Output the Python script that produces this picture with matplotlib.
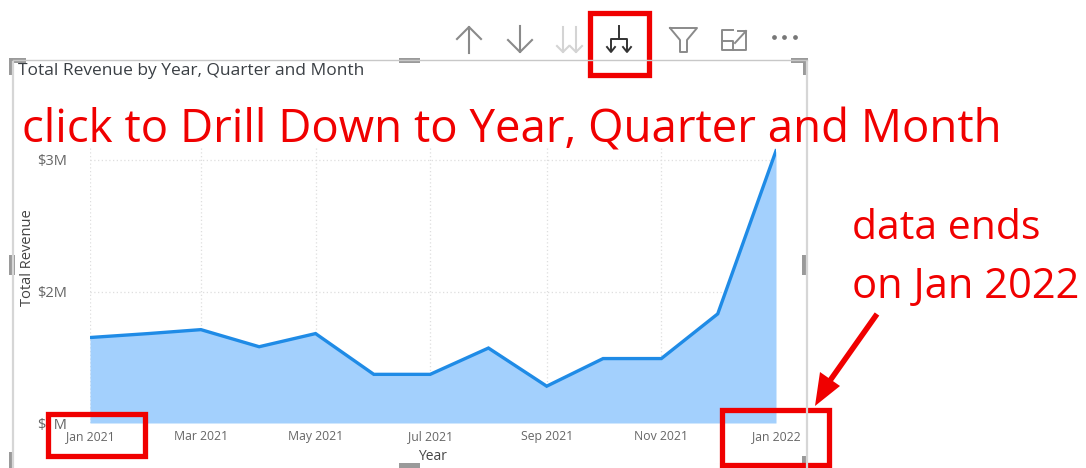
import matplotlib
matplotlib.use("Agg")
import matplotlib.pyplot as plt
import pandas as pd
from matplotlib.patches import Rectangle, Polygon

plt.rcParams['font.family'] = ['Open Sans', 'DejaVu Sans']

# Monthly revenue in $M, Jan 2021 through Jan 2022
months = ['2021-01-01', '2021-02-01', '2021-03-01', '2021-04-01', '2021-05-01', '2021-06-01', '2021-07-01',
          '2021-08-01', '2021-09-01', '2021-10-01', '2021-11-01', '2021-12-01', '2022-01-01']
revenue = [1.65, 1.68, 1.71, 1.58, 1.68, 1.37, 1.37, 1.57, 1.28, 1.49, 1.49, 1.83, 3.07]
y_ticks = [1, 2, 3]
y_tick_labels = ['$1M', '$2M', '$3M']

W, H = 1086, 468
fig = plt.figure(figsize=(W / 100, H / 100), dpi=100, facecolor='white')

# helper: axes rectangle given in pixels from the top left
def px_axes(left, top, right, bottom, **kw):
    return fig.add_axes([left / W, 1 - bottom / H, (right - left) / W, (bottom - top) / H], **kw)

# ---- area chart on a real time axis ----
ax = px_axes(90, 146, 776, 423)
dates = pd.to_datetime(months)
ax.fill_between(dates, revenue, 1, color='#a3d0fd', lw=0, zorder=2)
ax.plot(dates, revenue, color='#1f8be6', lw=2.4, solid_joinstyle='miter', zorder=3)
ax.set_xlim(dates[0], dates[-1])
ax.set_ylim(1, 1 + 277 / 131.5)
ax.set_xticks(dates[::2])
ax.set_xticklabels([d.strftime('%b %Y') for d in dates[::2]], fontsize=8.8, color='#666666')
ax.set_yticks(y_ticks)
ax.set_yticklabels(y_tick_labels, fontsize=10.5, color='#666666')
ax.tick_params(axis='x', length=0, pad=5)
ax.tick_params(axis='y', length=0, pad=16.5)
ax.grid(True, color='#dedede', lw=0.9, ls=(0, (1, 2)), zorder=1)
ax.set_axisbelow(True)
for s in ax.spines.values():
    s.set_visible(False)

# overlay in pixel coordinates for the visual frame, toolbar and callouts
ov = fig.add_axes([0, 0, 1, 1], zorder=5)
ov.set_xlim(0, W)
ov.set_ylim(H, 0)
ov.axis('off')
ov.patch.set_alpha(0)

# axis titles and chart title
ov.text(433, 456, 'Year', fontsize=10, color='#444444', ha='center', va='center')
ov.text(28, 258, 'Total Revenue', fontsize=10.5, color='#444444', rotation=90, ha='center', va='center')
ov.text(18, 71, 'Total Revenue by Year, Quarter and Month', fontsize=12.5, color='#3a3f44', va='center')

# visual frame with selection handles
ov.plot([13, 13], [62, 468], color='#d6d6d6', lw=1.6)
ov.plot([807, 807], [62, 468], color='#d6d6d6', lw=1.6)
ov.plot([13, 807], [60, 60], color='#c8c8c8', lw=1)
handle = '#9a9a9a'
for hx, hy, hw, hh in [(9, 58, 17, 5), (9, 58, 5, 17), (791, 58, 17, 5), (803, 58, 5, 17),
                       (399, 58, 21, 5), (9, 255, 6, 20), (802, 255, 6, 20),
                       (9, 452, 5, 16), (399, 463, 21, 5), (802, 456, 6, 12)]:
    ov.add_patch(Rectangle((hx, hy), hw, hh, color=handle, lw=0))

# toolbar icons
grey = '#8a8a8a'
ov.plot([469, 469], [27, 53], color=grey, lw=1.5)
ov.plot([457, 469, 481], [39, 27, 39], color=grey, lw=1.5)
ov.plot([520, 520], [26, 52], color=grey, lw=1.5)
ov.plot([508, 520, 532], [40, 52, 40], color=grey, lw=1.5)
light = '#d4d4d4'
for dx in (563, 576):
    ov.plot([dx, dx], [27, 52], color=light, lw=1.5)
    ov.plot([dx - 6, dx, dx + 6], [46, 52, 46], color=light, lw=1.5)
dark = '#333333'
ov.plot([619, 619], [26, 39], color=dark, lw=1.4)
ov.plot([611, 611, 627, 627], [51, 39, 39, 51], color=dark, lw=1.4)
for dx in (611, 627):
    ov.plot([dx - 4, dx, dx + 4], [47, 52, 47], color=dark, lw=1.4)
ov.plot([670, 697, 687, 687, 680, 680, 670], [28, 28, 40, 52, 52, 40, 28], color=grey, lw=1.4)
ov.plot([733, 722, 722, 746, 746], [30, 30, 50, 50, 40], color=grey, lw=1.4)
ov.plot([722, 733, 733], [41, 41, 50], color=grey, lw=1.4)
ov.plot([735, 746], [43, 31], color=grey, lw=1.4)
ov.plot([738, 746, 746], [31, 31, 38], color=grey, lw=1.4)
ov.plot([774, 784, 795], [37, 37, 37], ls='none', marker='o', ms=2.4, color='#777777')

# red callouts
red = '#f00000'
ov.text(22, 130, 'click to Drill Down to Year, Quarter and Month', fontsize=32.9, color=red,
        va='center', ha='left')
ov.text(852, 229, 'data ends', fontsize=29.5, color=red, va='center', ha='left')
ov.text(852, 287, 'on Jan 2022', fontsize=30, color=red, va='center', ha='left')
for bx, by, bw, bh in [(590, 13, 59, 62), (48, 414, 97, 42), (722, 410, 107, 55)]:
    ov.add_patch(Rectangle((bx, by), bw, bh, fill=False, ec=red, lw=3.8, joinstyle='miter'))
ov.plot([877, 829], [314, 382], color=red, lw=4, solid_capstyle='butt')
ov.add_patch(Polygon([[815, 406], [820, 372], [840, 386]], color=red, lw=0))

fig.savefig('out.png', dpi=100, facecolor='white')
